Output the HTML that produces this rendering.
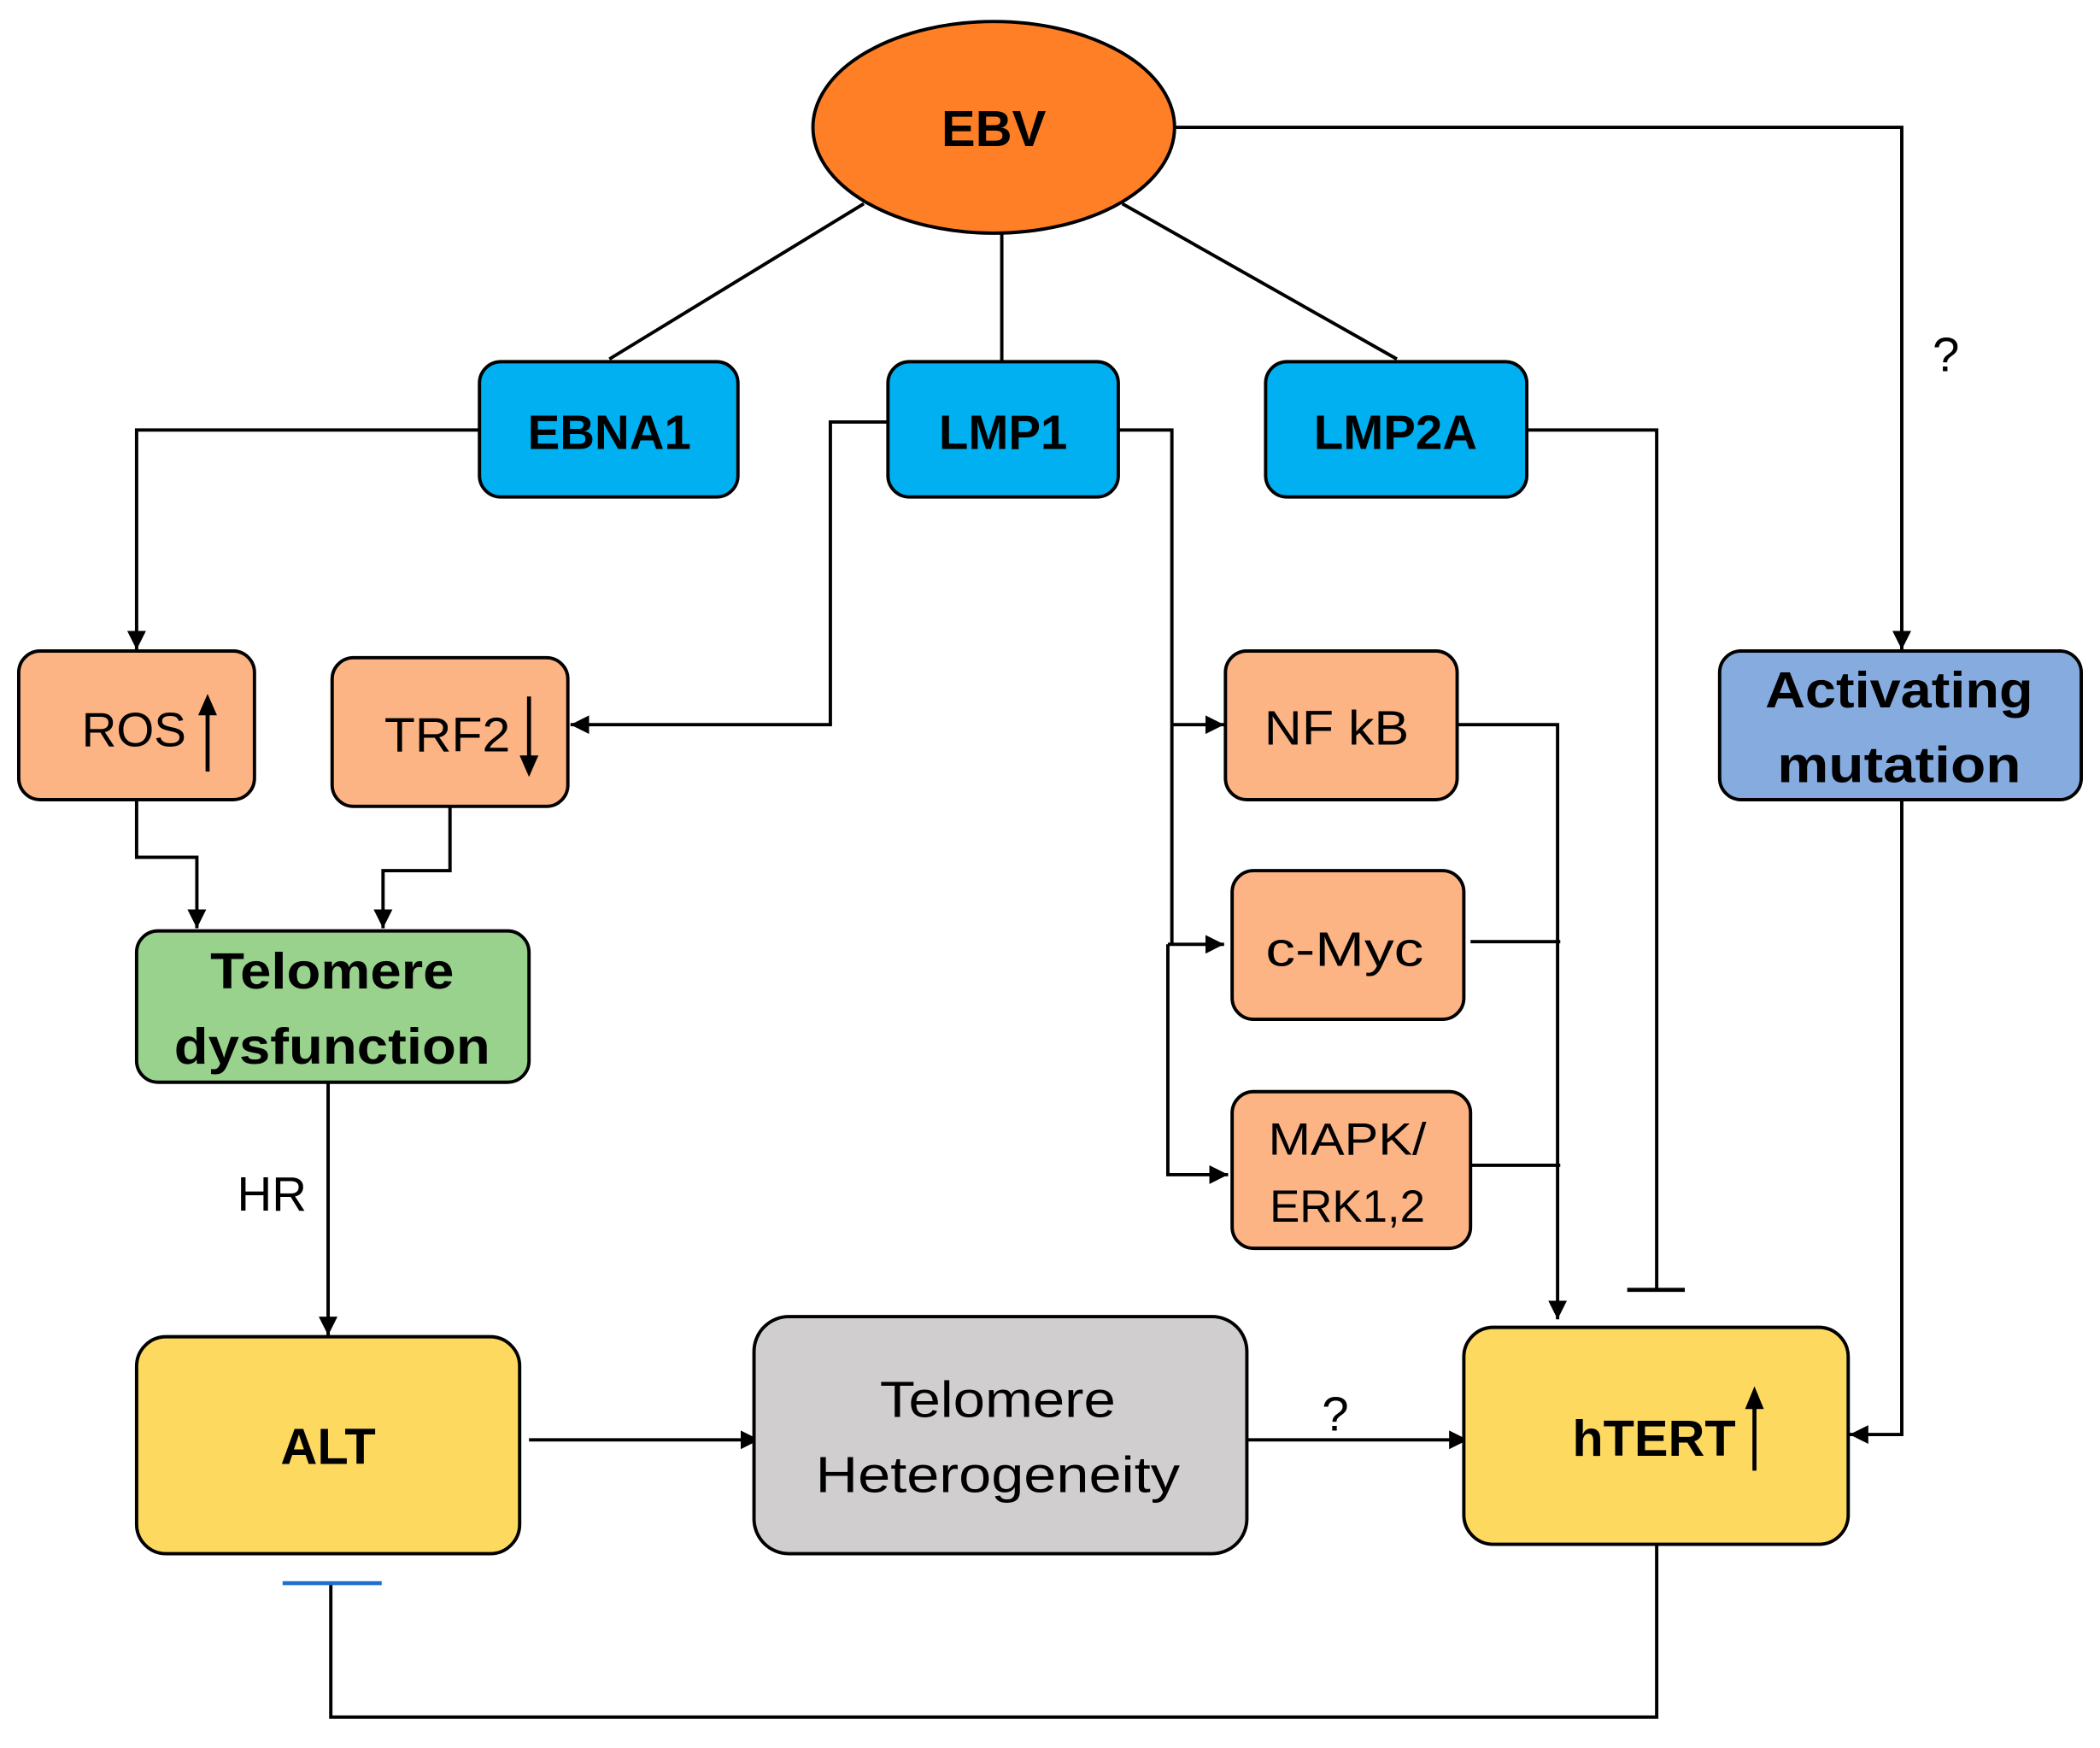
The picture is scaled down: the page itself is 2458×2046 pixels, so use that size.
<!DOCTYPE html>
<html><head><meta charset="utf-8"><style>html,body{margin:0;padding:0;background:#fff}svg{display:block}</style></head>
<body>
<svg width="2458" height="2046" viewBox="0 0 1568 1305" xmlns="http://www.w3.org/2000/svg" font-family="Liberation Sans, sans-serif">
<defs>
<marker id="a" viewBox="0 0 10 10" refX="10" refY="5" markerWidth="14" markerHeight="14" markerUnits="userSpaceOnUse" orient="auto"><path d="M0,0 L10,5 L0,10 z" fill="#000"/></marker>
</defs>
<g stroke="#000" stroke-width="2.5" fill="none">
<line x1="645" y1="152" x2="455" y2="268"/>
<line x1="748" y1="175" x2="748" y2="270"/>
<line x1="838" y1="152" x2="1043" y2="268"/>
<polyline points="877,95 1420,95 1420,485" marker-end="url(#a)"/>
<polyline points="358,321 102,321 102,485" marker-end="url(#a)"/>
<polyline points="663,315 620,315 620,541 426,541" marker-end="url(#a)"/>
<polyline points="835,321 875,321 875,705"/>
<line x1="875" y1="541" x2="914" y2="541" marker-end="url(#a)"/>
<line x1="872" y1="705" x2="914" y2="705" marker-end="url(#a)"/>
<polyline points="872,705 872,877 917,877" marker-end="url(#a)"/>
<polyline points="1088,541 1163,541 1163,985" marker-end="url(#a)"/>
<line x1="1098" y1="703" x2="1165" y2="703"/>
<line x1="1098" y1="870" x2="1165" y2="870"/>
<polyline points="1140,321 1237,321 1237,963"/>
<line x1="1215" y1="963" x2="1258" y2="963" stroke-width="3"/>
<polyline points="1420,597 1420,1071 1381,1071" marker-end="url(#a)"/>
<polyline points="102,597 102,640 147,640 147,693" marker-end="url(#a)"/>
<polyline points="336,602 336,650 286,650 286,693" marker-end="url(#a)"/>
<line x1="245" y1="808" x2="245" y2="997" marker-end="url(#a)"/>
<line x1="395" y1="1075" x2="567" y2="1075" marker-end="url(#a)"/>
<line x1="931" y1="1075" x2="1096" y2="1075" marker-end="url(#a)"/>
<polyline points="1237,1153 1237,1282 247,1282 247,1182"/>
<line x1="211" y1="1182" x2="285" y2="1182" stroke="#1F6FD0" stroke-width="3"/>
</g>
<g stroke="#000" stroke-width="2.5">
<ellipse cx="742" cy="95" rx="135" ry="79" fill="#FF7F27"/>
<rect x="358" y="270" width="193" height="101" rx="16" fill="#00B0F0"/>
<rect x="663" y="270" width="172" height="101" rx="16" fill="#00B0F0"/>
<rect x="945" y="270" width="195" height="101" rx="16" fill="#00B0F0"/>
<rect x="1284" y="486" width="270" height="111" rx="16" fill="#86ABDF"/>
<rect x="14" y="486" width="176" height="111" rx="16" fill="#FDB484"/>
<rect x="248" y="491" width="176" height="111" rx="16" fill="#FDB484"/>
<rect x="915" y="486" width="173" height="111" rx="16" fill="#FDB484"/>
<rect x="920" y="650" width="173" height="111" rx="16" fill="#FDB484"/>
<rect x="920" y="815" width="178" height="117" rx="16" fill="#FDB484"/>
<rect x="102" y="695" width="293" height="113" rx="16" fill="#98D28D"/>
<rect x="102" y="998" width="286" height="162" rx="22" fill="#FED960"/>
<rect x="563" y="983" width="368" height="177" rx="26" fill="#D0CECE"/>
<rect x="1093" y="991" width="287" height="162" rx="22" fill="#FED960"/>
</g>
<g fill="#000" font-size="38" text-anchor="middle">
<text x="742" y="109" font-weight="bold">EBV</text>
<text x="455" y="335" font-weight="bold" font-size="36">EBNA1</text>
<text x="749" y="335" font-weight="bold" font-size="36">LMP1</text>
<text x="1042" y="335" font-weight="bold" font-size="36">LMP2A</text>
<text x="1418" y="528" font-weight="bold" font-size="38" textLength="200" lengthAdjust="spacingAndGlyphs">Activating</text>
<text x="1418" y="584" font-weight="bold" font-size="38" textLength="182" lengthAdjust="spacingAndGlyphs">mutation</text>
<text x="100" y="557" font-size="36" textLength="78" lengthAdjust="spacingAndGlyphs">ROS</text>
<text x="334" y="561" font-size="36" textLength="94" lengthAdjust="spacingAndGlyphs">TRF2</text>
<text x="998" y="556" font-size="36" textLength="108" lengthAdjust="spacingAndGlyphs">NF kB</text>
<text x="1004" y="721" font-size="36" textLength="118" lengthAdjust="spacingAndGlyphs">c-Myc</text>
<text x="1006" y="862" font-size="34" textLength="118" lengthAdjust="spacingAndGlyphs">MAPK/</text>
<text x="1006" y="912" font-size="34" textLength="116" lengthAdjust="spacingAndGlyphs">ERK1,2</text>
<text x="248" y="738" font-weight="bold" font-size="38" textLength="182" lengthAdjust="spacingAndGlyphs">Telomere</text>
<text x="248" y="794" font-weight="bold" font-size="38" textLength="236" lengthAdjust="spacingAndGlyphs">dysfunction</text>
<text x="245" y="1093" font-weight="bold" font-size="38">ALT</text>
<text x="745" y="1058" font-size="38" textLength="176" lengthAdjust="spacingAndGlyphs">Telomere</text>
<text x="745" y="1114" font-size="38" textLength="272" lengthAdjust="spacingAndGlyphs">Heterogeneity</text>
<text x="1235" y="1087" font-weight="bold" font-size="38" textLength="122" lengthAdjust="spacingAndGlyphs">hTERT</text>
<text x="203" y="904" font-size="36">HR</text>
<text x="1453" y="277" font-size="36">?</text>
<text x="997" y="1068" font-size="36">?</text>
</g>
<g stroke="#000" stroke-width="3" fill="none">
<line x1="155" y1="576" x2="155" y2="530"/>
<line x1="395" y1="520" x2="395" y2="570"/>
<line x1="1310" y1="1098" x2="1310" y2="1050"/>
</g>
<g fill="#000">
<path d="M148,534 L155,518 L162,534 z"/>
<path d="M388,564 L395,580 L402,564 z"/>
<path d="M1303,1052 L1310,1035 L1317,1052 z"/>
</g>
</svg>
</body></html>
